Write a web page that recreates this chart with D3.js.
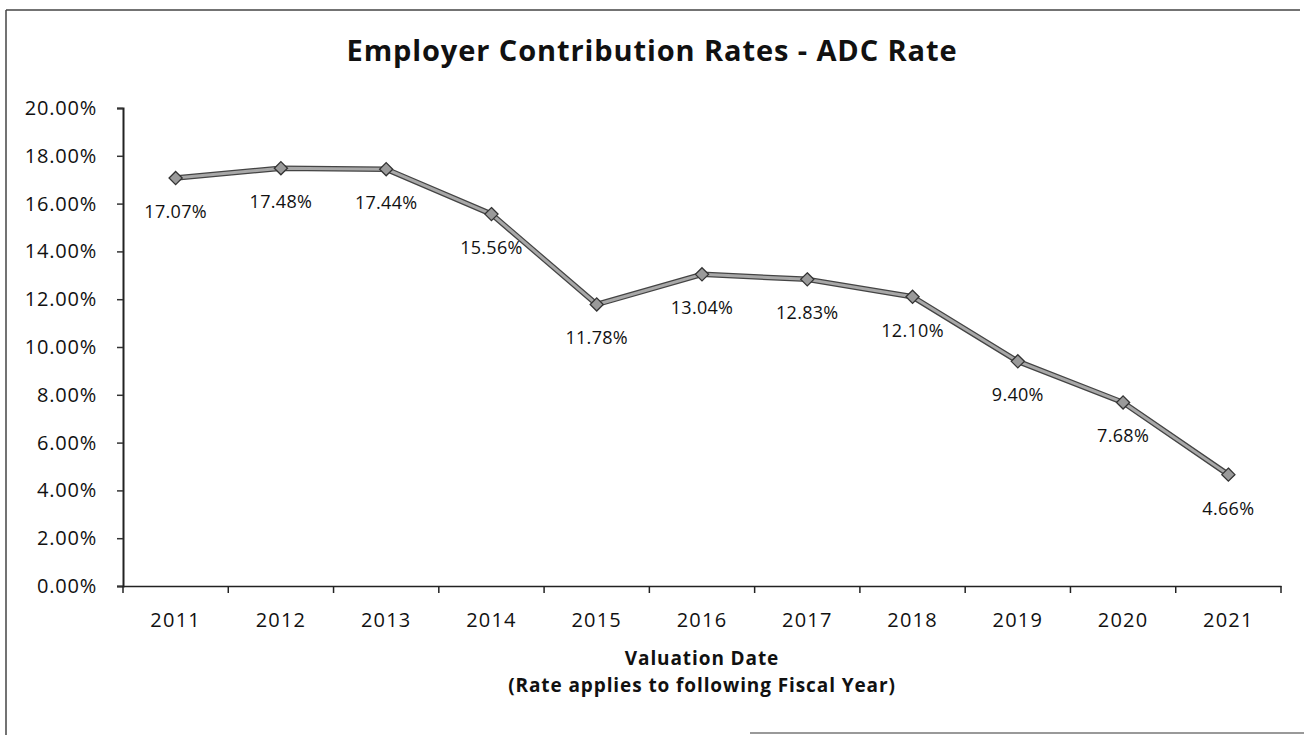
<!DOCTYPE html>
<html>
<head>
<meta charset="utf-8">
<script src="https://cdn.jsdelivr.net/npm/d3@7/dist/d3.min.js"></script>
<style>
  html, body { margin: 0; padding: 0; background: #fff; }
  svg { display: block; }
  text { font-family: "Open Sans", "Noto Sans", sans-serif; fill: #111; }
</style>
</head>
<body>
<svg id="chart" width="1304" height="735"></svg>
<script>
// ADC contribution rate by valuation year (percent)
const years = ["2011", "2012", "2013", "2014", "2015", "2016", "2017", "2018", "2019", "2020", "2021"];
const adcRates = [17.07, 17.48, 17.44, 15.56, 11.78, 13.04, 12.83, 12.10, 9.40, 7.68, 4.66];
const yTicks = [0, 2, 4, 6, 8, 10, 12, 14, 16, 18, 20];

const chartTitle = "Employer Contribution Rates - ADC Rate";
const xTitle = "Valuation Date";
const xSubtitle = "(Rate applies to following Fiscal Year)";

const svg = d3.select("#chart");
const plot = { left: 123, right: 1281, top: 108, bottom: 586 };

// frame of the chart area
const frame = svg.append("g").attr("stroke", "#444").attr("stroke-width", 1.5).attr("fill", "none");
frame.append("line").attr("x1", 6).attr("x2", 1300).attr("y1", 10).attr("y2", 10);
frame.append("line").attr("x1", 6).attr("x2", 6).attr("y1", 10).attr("y2", 735);
frame.append("line").attr("x1", 750).attr("x2", 1304).attr("y1", 733).attr("y2", 733).attr("stroke", "#777");

const x = d3.scaleBand().domain(years).range([plot.left, plot.right]).paddingInner(0).paddingOuter(0);
const y = d3.scaleLinear().domain([0, 20]).range([plot.bottom, plot.top]);

// title
svg.append("text")
  .attr("x", 652).attr("y", 61)
  .attr("text-anchor", "middle")
  .attr("font-weight", 700)
  .attr("font-size", 29)
  .attr("letter-spacing", 0.9)
  .text(chartTitle);

// y axis
const yAxis = d3.axisLeft(y)
  .tickValues(yTicks)
  .tickSize(6)
  .tickPadding(20)
  .tickFormat(d => d3.format(".2f")(d) + "%");
const gy = svg.append("g").attr("transform", `translate(${plot.left},0)`).call(yAxis);
gy.select(".domain").attr("stroke", "#222").attr("stroke-width", 2);
gy.selectAll(".tick line").attr("stroke", "#333").attr("stroke-width", 1.5);
gy.selectAll(".tick text").attr("font-size", 20).attr("fill", "#111")
  .attr("letter-spacing", 0.8)
  .style("font-family", '"Open Sans", sans-serif');

// x axis: ticks sit on category boundaries, labels at band centres
const xAxis = d3.axisBottom(x).tickSize(0).tickPadding(27);
const gx = svg.append("g").attr("transform", `translate(0,${plot.bottom})`).call(xAxis);
gx.select(".domain").attr("stroke", "#222").attr("stroke-width", 1.5);
gx.selectAll(".tick text").attr("font-size", 20).attr("fill", "#111")
  .attr("letter-spacing", 1.2)
  .style("font-family", '"Open Sans", sans-serif');
const boundaries = years.map(d => x(d)).concat([x(years[years.length - 1]) + x.bandwidth()]);
svg.append("g").selectAll("line").data(boundaries).join("line")
  .attr("x1", d => d).attr("x2", d => d)
  .attr("y1", plot.bottom).attr("y2", plot.bottom + 7)
  .attr("stroke", "#222").attr("stroke-width", 1.5);

// axis titles
svg.append("text")
  .attr("x", (plot.left + plot.right) / 2).attr("y", 665)
  .attr("text-anchor", "middle").attr("font-weight", 700).attr("font-size", 19)
  .attr("letter-spacing", 0.9)
  .text(xTitle);
svg.append("text")
  .attr("x", (plot.left + plot.right) / 2).attr("y", 692)
  .attr("text-anchor", "middle").attr("font-weight", 700).attr("font-size", 19)
  .attr("letter-spacing", 0.9)
  .text(xSubtitle);

// series line
const pts = years.map((yr, i) => ({ yr, v: adcRates[i] }));
const line = d3.line().x(d => x(d.yr) + x.bandwidth() / 2).y(d => y(d.v));
svg.append("path").datum(pts).attr("d", line)
  .attr("fill", "none").attr("stroke", "#444").attr("stroke-width", 5.5)
  .attr("stroke-linejoin", "round");
svg.append("path").datum(pts).attr("d", line)
  .attr("fill", "none").attr("stroke", "#a8a8a8").attr("stroke-width", 3)
  .attr("stroke-linejoin", "round");

// diamond markers
const diamond = d3.symbol().type(d3.symbolDiamond2).size(110);
svg.append("g").selectAll("path").data(pts).join("path")
  .attr("d", diamond)
  .attr("transform", d => `translate(${x(d.yr) + x.bandwidth() / 2},${y(d.v)})`)
  .attr("fill", "#9a9a9a").attr("stroke", "#333").attr("stroke-width", 1.3);

// data labels below each point
svg.append("g").selectAll("text").data(pts).join("text")
  .attr("x", d => x(d.yr) + x.bandwidth() / 2)
  .attr("y", d => y(d.v) + 40)
  .attr("text-anchor", "middle")
  .attr("font-size", 18)
  .attr("letter-spacing", 0.3)
  .text(d => d3.format(".2f")(d.v) + "%");
</script>
</body>
</html>
